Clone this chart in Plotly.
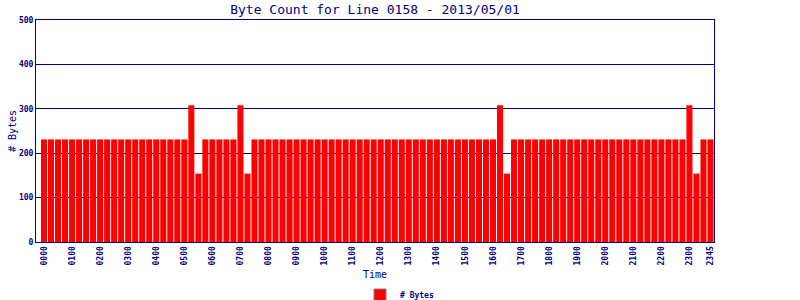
import plotly.graph_objects as go

times = [
    "0000","0015","0030","0045","0100","0115","0130","0145",
    "0200","0215","0230","0245","0300","0315","0330","0345",
    "0400","0415","0430","0445","0500","0515","0530","0545",
    "0600","0615","0630","0645","0700","0715","0730","0745",
    "0800","0815","0830","0845","0900","0915","0930","0945",
    "1000","1015","1030","1045","1100","1115","1130","1145",
    "1200","1215","1230","1245","1300","1315","1330","1345",
    "1400","1415","1430","1445","1500","1515","1530","1545",
    "1600","1615","1630","1645","1700","1715","1730","1745",
    "1800","1815","1830","1845","1900","1915","1930","1945",
    "2000","2015","2030","2045","2100","2115","2130","2145",
    "2200","2215","2230","2245","2300","2315","2330","2345",
]

byte_counts = [
    231, 231, 231, 231, 231, 231, 231, 231,
    231, 231, 231, 231, 231, 231, 231, 231,
    231, 231, 231, 231, 231, 308, 154, 231,
    231, 231, 231, 231, 308, 154, 231, 231,
    231, 231, 231, 231, 231, 231, 231, 231,
    231, 231, 231, 231, 231, 231, 231, 231,
    231, 231, 231, 231, 231, 231, 231, 231,
    231, 231, 231, 231, 231, 231, 231, 231,
    231, 308, 154, 231, 231, 231, 231, 231,
    231, 231, 231, 231, 231, 231, 231, 231,
    231, 231, 231, 231, 231, 231, 231, 231,
    231, 231, 231, 231, 308, 154, 231, 231,
]

tick_labels = [
    "0000","0100","0200","0300","0400","0500","0600","0700",
    "0800","0900","1000","1100","1200","1300","1400","1500",
    "1600","1700","1800","1900","2000","2100","2200","2300","2345",
]

y_ticks = [0, 100, 200, 300, 400, 500]

NAVY = "#000080"
MONO = "DejaVu Sans Mono"

fig = go.Figure()
fig.add_trace(go.Bar(
    x=times, y=byte_counts, marker=dict(color="#ff0000", line=dict(width=0)),
    showlegend=False, name="# Bytes",
))
fig.add_trace(go.Bar(
    x=[None], y=[None], name="# Bytes",
    marker=dict(color="#ff0000", line=dict(color="#808080", width=1)),
    showlegend=True,
))

fig.update_layout(
    width=800, height=300,
    margin=dict(l=36, r=86, t=20, b=58, autoexpand=False),
    paper_bgcolor="white", plot_bgcolor="white",
    bargap=0.14,
    title=dict(text="Byte Count for Line 0158 - 2013/05/01",
               font=dict(family=MONO, size=13, color=NAVY),
               x=375 / 800, xanchor="center", y=1 - 9 / 300, yanchor="middle"),
    xaxis=dict(
        type="category",
        range=[-1.14, 95.5],
        tickmode="array", tickvals=tick_labels, ticktext=tick_labels,
        tickangle=-90,
        tickfont=dict(family=MONO, size=8, color=NAVY, weight="bold"),
        showgrid=False, ticks="", ticklen=0,
        showline=True, linecolor=NAVY, linewidth=1, mirror=True,
        title=dict(text="Time", font=dict(family=MONO, size=10, color=NAVY), standoff=10),
        zeroline=False, automargin=False,
    ),
    yaxis=dict(
        range=[0, 500],
        tickmode="array", tickvals=y_ticks,
        tickfont=dict(family=MONO, size=8, color=NAVY, weight="bold"),
        showgrid=True, gridcolor=NAVY, gridwidth=1,
        ticks="", showline=True, linecolor=NAVY, linewidth=1, mirror=True,
        zeroline=False, automargin=False,
        title=dict(text="# Bytes", font=dict(family=MONO, size=10, color=NAVY), standoff=0),
    ),
    legend=dict(
        orientation="h", xref="container", yref="container",
        x=360 / 800, xanchor="left", y=5 / 300, yanchor="middle",
        font=dict(family=MONO, size=8, color=NAVY, weight="bold"),
        bgcolor="rgba(0,0,0,0)", itemwidth=30,
    ),
)

fig.write_html("out.html")
